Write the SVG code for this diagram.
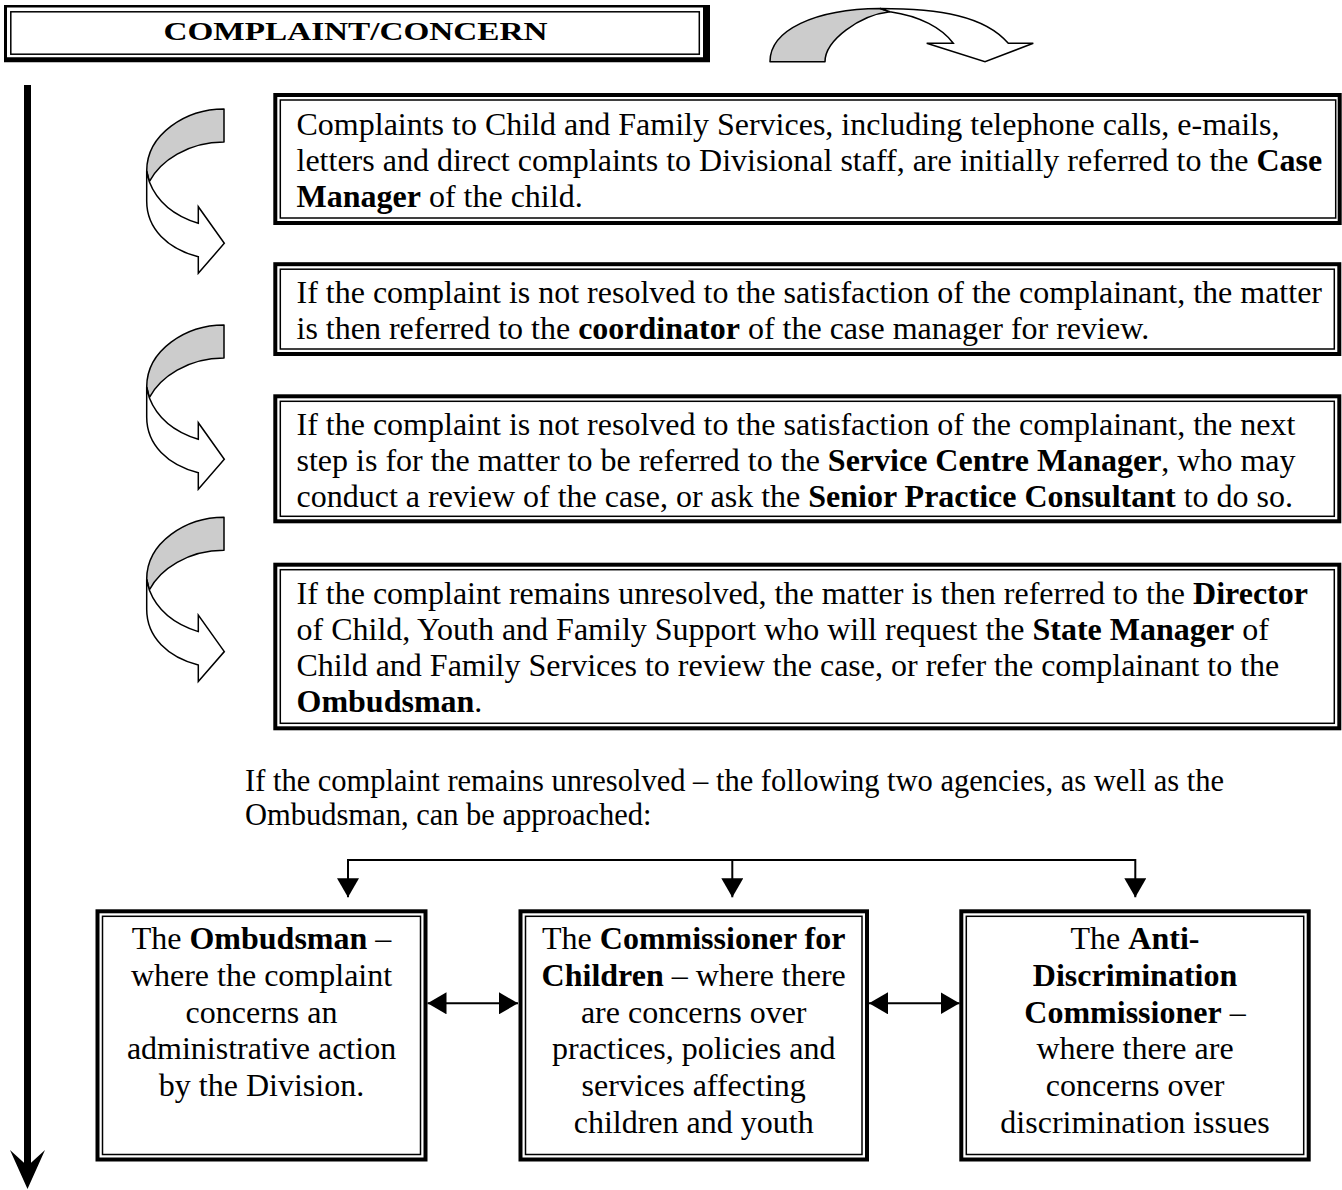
<svg xmlns="http://www.w3.org/2000/svg" width="1342" height="1190" viewBox="0 0 1342 1190">
<style>
.t{font-family:"Liberation Serif","Times New Roman",serif;font-size:32px;fill:#000}
.m{font-family:"Liberation Serif","Times New Roman",serif;font-size:30.5px;fill:#000}
.b{font-weight:bold}
.c{text-anchor:middle}
.ob{fill:none;stroke:#000;stroke-width:4}
.ib{fill:none;stroke:#000;stroke-width:1.5}
.ln{fill:none;stroke:#000;stroke-width:2}
.gray{fill:#cccccc;stroke:#000;stroke-width:1.5;stroke-linejoin:round}
.wht{fill:#fff;stroke:#000;stroke-width:1.5;stroke-linejoin:miter}
</style>
<defs>
<marker id="tri" markerUnits="userSpaceOnUse" markerWidth="19" markerHeight="22" viewBox="0 0 19 22" refX="19" refY="11" orient="auto-start-reverse">
<path d="M0,0 L19,11 L0,22 Z" fill="#000"/>
</marker>
</defs>
<rect width="1342" height="1190" fill="#fff"/>

<g id="header">
<path d="M4,5 H710 V62.3 H4 Z M7,7.5 V57.3 H703 V7.5 Z" fill="#000" fill-rule="evenodd"/>
<rect x="10.8" y="11.8" width="688.5" height="42.4" class="ib"/>
<text x="163.5" y="40" textLength="384" lengthAdjust="spacingAndGlyphs" style="font-family:'Liberation Serif','Times New Roman',serif;font-size:26px;font-weight:bold">COMPLAINT/CONCERN</text>
</g>

<g id="connectors">
<path d="M24,85 H31 V1166 H24 Z" fill="#000"/>
<path d="M10,1150 L27.5,1166 L45,1150 L27.5,1189 Z" fill="#000"/>
<path class="gray" d="M770,61.7 C770,30 815,9 880,8.5 L890,11.7 C860,15 825,40 825,61.7 Z"/>
<path class="wht" d="M890,11.7 C920,16 942,28 953.3,43.3 L926.7,43.3 L985,61.7 L1033.3,43.3 L1008.3,43.3 C985,16 940,8.5 880,8.5 Z"/>
<g id="curve1">
<path class="gray" d="M224,109 C186,109 146.7,134 146.7,171 L149.3,181.7 C160,161 188,142 224,142 Z"/>
<path class="wht" d="M149.3,181.7 C158,204 178,217 198.3,223.3 L198.3,206.7 L224.3,243.3 L198.3,273.3 L198.3,256.7 C168,249 146.7,229 146.7,201 L146.7,171 Z"/>
</g>
<g id="curve2" transform="translate(0,216)">
<path class="gray" d="M224,109 C186,109 146.7,134 146.7,171 L149.3,181.7 C160,161 188,142 224,142 Z"/>
<path class="wht" d="M149.3,181.7 C158,204 178,217 198.3,223.3 L198.3,206.7 L224.3,243.3 L198.3,273.3 L198.3,256.7 C168,249 146.7,229 146.7,201 L146.7,171 Z"/>
</g>
<g id="curve3" transform="translate(0,408.3)">
<path class="gray" d="M224,109 C186,109 146.7,134 146.7,171 L149.3,181.7 C160,161 188,142 224,142 Z"/>
<path class="wht" d="M149.3,181.7 C158,204 178,217 198.3,223.3 L198.3,206.7 L224.3,243.3 L198.3,273.3 L198.3,256.7 C168,249 146.7,229 146.7,201 L146.7,171 Z"/>
</g>
<path class="ln" d="M348,897.3 V860 H1135.3 V897.3" marker-start="url(#tri)" marker-end="url(#tri)"/>
<path class="ln" d="M732.3,860 V897.3" marker-end="url(#tri)"/>
<path class="ln" d="M427.5,1003.3 H518" marker-start="url(#tri)" marker-end="url(#tri)"/>
<path class="ln" d="M869,1003.3 H959.5" marker-start="url(#tri)" marker-end="url(#tri)"/>
</g>

<g id="box1">
<rect x="275.3" y="95" width="1064.4" height="128" class="ob"/>
<rect x="280.3" y="100" width="1055.4" height="118" class="ib"/>
<text class="t" x="296.5" y="134.5">Complaints to Child and Family Services, including telephone calls, e-mails,</text>
<text class="t" x="296.5" y="170.5">letters and direct complaints to Divisional staff, are initially referred to the <tspan class="b">Case</tspan></text>
<text class="t" x="296.5" y="206.5"><tspan class="b">Manager</tspan> of the child.</text>
</g>

<g id="box2">
<rect x="275.3" y="264.2" width="1064" height="89.8" class="ob"/>
<rect x="280.3" y="269.2" width="1054" height="79.8" class="ib"/>
<text class="t" x="296.5" y="302.5">If the complaint is not resolved to the satisfaction of the complainant, the matter</text>
<text class="t" x="296.5" y="338.5">is then referred to the <tspan class="b">coordinator</tspan> of the case manager for review.</text>
</g>

<g id="box3">
<rect x="275.3" y="396.3" width="1064" height="125" class="ob"/>
<rect x="280.3" y="401.3" width="1054" height="115" class="ib"/>
<text class="t" x="296.5" y="435">If the complaint is not resolved to the satisfaction of the complainant, the next</text>
<text class="t" x="296.5" y="471">step is for the matter to be referred to the <tspan class="b">Service Centre Manager</tspan>, who may</text>
<text class="t" x="296.5" y="507">conduct a review of the case, or ask the <tspan class="b">Senior Practice Consultant</tspan> to do so.</text>
</g>

<g id="box4">
<rect x="275.3" y="564.7" width="1064" height="163.6" class="ob"/>
<rect x="280.3" y="569.7" width="1054" height="153.6" class="ib"/>
<text class="t" x="296.5" y="604">If the complaint remains unresolved, the matter is then referred to the <tspan class="b">Director</tspan></text>
<text class="t" x="296.5" y="640">of Child, Youth and Family Support who will request the <tspan class="b">State Manager</tspan> of</text>
<text class="t" x="296.5" y="676">Child and Family Services to review the case, or refer the complainant to the</text>
<text class="t" x="296.5" y="712"><tspan class="b">Ombudsman</tspan>.</text>
</g>

<g id="note">
<text class="m" x="245" y="791">If the complaint remains unresolved – the following two agencies, as well as the</text>
<text class="m" x="245" y="825">Ombudsman, can be approached:</text>
</g>

<g id="ombudsman">
<rect x="97.5" y="911.3" width="328" height="248.2" class="ob"/>
<rect x="102.5" y="916.3" width="318" height="238.2" class="ib"/>
<text class="t c" x="261.5" y="949">The <tspan class="b">Ombudsman</tspan> –</text>
<text class="t c" x="261.5" y="985.8">where the complaint</text>
<text class="t c" x="261.5" y="1022.6">concerns an</text>
<text class="t c" x="261.5" y="1059.4">administrative action</text>
<text class="t c" x="261.5" y="1096.2">by the Division.</text>
</g>

<g id="commissioner">
<rect x="520.5" y="911.3" width="346.5" height="248.2" class="ob"/>
<rect x="525.5" y="916.3" width="336.5" height="238.2" class="ib"/>
<text class="t c" x="693.7" y="949">The <tspan class="b">Commissioner for</tspan></text>
<text class="t c" x="693.7" y="985.8"><tspan class="b">Children</tspan> – where there</text>
<text class="t c" x="693.7" y="1022.6">are concerns over</text>
<text class="t c" x="693.7" y="1059.4">practices, policies and</text>
<text class="t c" x="693.7" y="1096.2">services affecting</text>
<text class="t c" x="693.7" y="1133">children and youth</text>
</g>

<g id="antidiscrimination">
<rect x="961.3" y="911.3" width="347.4" height="248.2" class="ob"/>
<rect x="966.3" y="916.3" width="337.4" height="238.2" class="ib"/>
<text class="t c" x="1135" y="949">The <tspan class="b">Anti-</tspan></text>
<text class="t c b" x="1135" y="985.8">Discrimination</text>
<text class="t c" x="1135" y="1022.6"><tspan class="b">Commissioner</tspan> –</text>
<text class="t c" x="1135" y="1059.4">where there are</text>
<text class="t c" x="1135" y="1096.2">concerns over</text>
<text class="t c" x="1135" y="1133">discrimination issues</text>
</g>
</svg>
